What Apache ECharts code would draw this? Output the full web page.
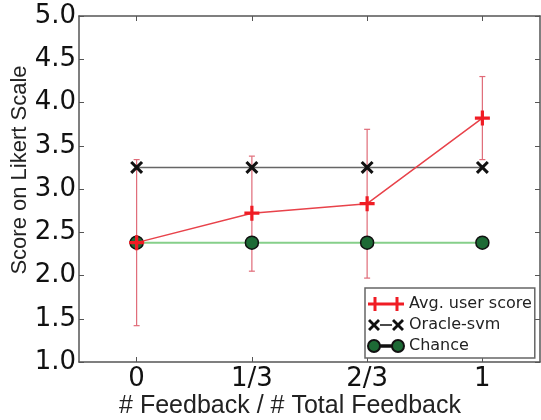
<!DOCTYPE html>
<html>
<head>
<meta charset="utf-8">
<script src="https://cdn.jsdelivr.net/npm/echarts@6/dist/echarts.min.js"></script>
<style>
  html, body { margin: 0; padding: 0; background: #fff; }
  #chart { width: 541px; height: 420px; }
</style>
</head>
<body>
<div id="chart"></div>
<script>
// data
var categories = ['0', '1/3', '2/3', '1'];
var avgUserScore = [2.38, 2.72, 2.83, 3.82];
var avgErrLow = [1.42, 2.05, 1.97, 3.34];
var avgErrHigh = [3.34, 3.38, 3.69, 4.30];
var oracleSvm = [3.25, 3.25, 3.25, 3.25];
var chance = [2.38, 2.38, 2.38, 2.38];

var seriesNames = ['Avg. user score', 'Oracle-svm', 'Chance'];

// marker shapes
var plusPath = 'path://M0,5.5L14,5.5L14,8.5L0,8.5Z M5.5,0L8.5,0L8.5,14L5.5,14Z';
var crossPath = 'path://M-6,-4L-4,-6L6,4L4,6Z M4,-6L6,-4L-4,6L-6,4Z';

// legend icons: marker - line - marker
var plusIcon = 'path://M0,5.5L36,5.5L36,8.5L0,8.5Z M5.5,0L8.5,0L8.5,14L5.5,14Z M27.5,0L30.5,0L30.5,14L27.5,14Z';
var crossIcon = 'path://M0,2L2,0L12,10L10,12Z M10,0L12,2L2,12L0,10Z M24,2L26,0L36,10L34,12Z M34,0L36,2L26,12L24,10Z M12,5.3L24,5.3L24,6.7L12,6.7Z';
var circleIcon = 'path://M0,6A6,6 0 1,0 12,6A6,6 0 1,0 0,6Z M24,6A6,6 0 1,0 36,6A6,6 0 1,0 24,6Z M12,5.2L24,5.2L24,6.8L12,6.8Z';

var frame = { show: true, lineStyle: { color: '#555', width: 1.5 } };
var tickIn = { show: true, inside: true, length: 5, lineStyle: { color: '#555', width: 1 } };

var myChart = echarts.init(document.getElementById('chart'));

myChart.setOption({
  animation: false,
  grid: { left: 79, right: 1, top: 16, bottom: 58 },
  graphic: [
    {
      type: 'text',
      x: 20, y: 170,
      rotation: Math.PI / 2,
      style: {
        text: 'Score on Likert Scale',
        font: '22px "Liberation Sans"',
        fill: '#222',
        textAlign: 'center',
        textVerticalAlign: 'middle'
      }
    },
    {
      type: 'text',
      x: 290, y: 406,
      style: {
        text: '# Feedback / # Total Feedback',
        font: '25px "Liberation Sans"',
        fill: '#222',
        textAlign: 'center',
        textVerticalAlign: 'middle'
      }
    }
  ],
  legend: {
    orient: 'vertical',
    left: 365,
    top: 288,
    padding: [8, 3, 4, 2],
    itemGap: 5,
    itemWidth: 36,
    itemHeight: 14,
    itemTextGap: 12,
    borderColor: '#666',
    borderWidth: 1.5,
    borderRadius: 0,
    backgroundColor: '#fff',
    textStyle: { fontFamily: 'DejaVu Sans', fontSize: 16, color: '#222', lineHeight: 16 },
    data: [
      { name: seriesNames[0], icon: plusIcon },
      { name: seriesNames[1], icon: crossIcon },
      { name: seriesNames[2], icon: circleIcon }
    ]
  },
  xAxis: [
    {
      type: 'category',
      data: categories,
      axisLine: frame,
      axisTick: Object.assign({ alignWithLabel: true }, tickIn),
      axisLabel: { fontFamily: 'DejaVu Sans', fontSize: 26, color: '#111', margin: 4 },
      splitLine: { show: false }
    },
    {
      type: 'category',
      position: 'top',
      data: categories,
      axisLine: frame,
      axisTick: Object.assign({ alignWithLabel: true }, tickIn),
      axisLabel: { show: false },
      splitLine: { show: false }
    }
  ],
  yAxis: [
    {
      type: 'value',
      min: 1, max: 5, interval: 0.5,
      axisLine: frame,
      axisTick: tickIn,
      axisLabel: {
        fontFamily: 'DejaVu Sans', fontSize: 26, color: '#111', margin: 3,
        formatter: function (v) { return v.toFixed(1); }
      },
      splitLine: { show: false }
    },
    {
      type: 'value',
      position: 'right',
      min: 1, max: 5, interval: 0.5,
      axisLine: frame,
      axisTick: tickIn,
      axisLabel: { show: false },
      splitLine: { show: false }
    }
  ],
  series: [
    {
      type: 'custom',
      name: 'err',
      z: 1,
      data: categories.map(function (c, i) { return [i, avgErrLow[i], avgErrHigh[i]]; }),
      encode: { x: 0, y: [1, 2] },
      renderItem: function (params, api) {
        var lo = api.coord([api.value(0), api.value(1)]);
        var hi = api.coord([api.value(0), api.value(2)]);
        var w = 3;
        var st = { stroke: '#e06b78', lineWidth: 1.2 };
        return {
          type: 'group',
          children: [
            { type: 'line', shape: { x1: lo[0], y1: lo[1], x2: hi[0], y2: hi[1] }, style: st },
            { type: 'line', shape: { x1: lo[0] - w, y1: lo[1], x2: lo[0] + w, y2: lo[1] }, style: st },
            { type: 'line', shape: { x1: hi[0] - w, y1: hi[1], x2: hi[0] + w, y2: hi[1] }, style: st }
          ]
        };
      }
    },
    {
      name: seriesNames[1],
      type: 'line',
      z: 2,
      data: oracleSvm,
      symbol: crossPath,
      symbolSize: 13,
      lineStyle: { color: '#666', width: 1.5 },
      itemStyle: { color: '#111', borderWidth: 0 }
    },
    {
      name: seriesNames[2],
      type: 'line',
      z: 3,
      data: chance,
      symbol: 'circle',
      symbolSize: 13,
      lineStyle: { color: '#86cf8a', width: 2 },
      itemStyle: { color: '#1d6a35', borderColor: '#111', borderWidth: 1.5 }
    },
    {
      name: seriesNames[0],
      type: 'line',
      z: 4,
      data: avgUserScore,
      symbol: plusPath,
      symbolSize: 15,
      lineStyle: { color: '#e8424a', width: 1.5 },
      itemStyle: { color: '#f01c24', borderWidth: 0 }
    }
  ]
});
</script>
</body>
</html>
